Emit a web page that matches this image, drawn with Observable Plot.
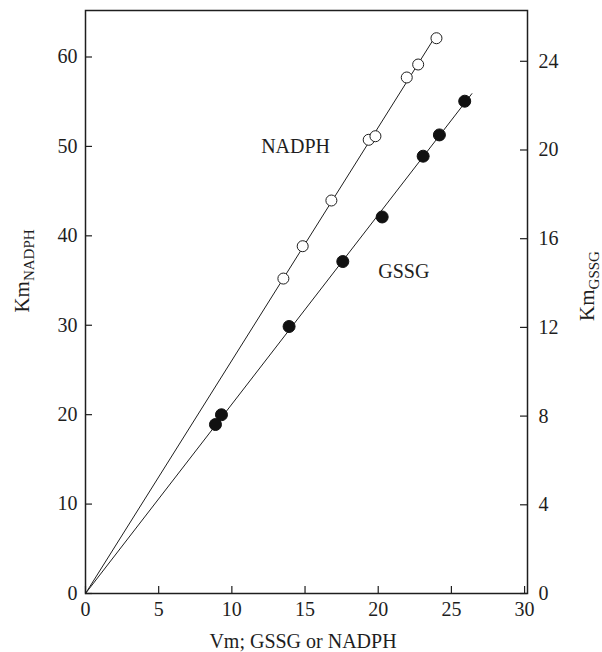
<!DOCTYPE html>
<html><head><meta charset="utf-8">
<script src="https://cdn.jsdelivr.net/npm/d3@7"></script>
<script src="https://cdn.jsdelivr.net/npm/@observablehq/plot@0.6"></script>
<style>
  html, body { margin: 0; padding: 0; background: #fff; }
  #chart { width: 602px; height: 652px; }
</style>
</head><body><div id="chart"></div>
<script>
// NADPH (open circles, left axis Km_NADPH)
const nadphVm = [13.52, 14.84, 16.80, 19.35, 19.81, 21.95, 22.73, 23.98];
const nadphKm = [35.22, 38.84, 43.95, 50.74, 51.14, 57.71, 59.16, 62.10];
// GSSG (filled circles, right axis Km_GSSG)
const gssgVm = [8.88, 9.29, 13.91, 17.58, 20.27, 23.07, 24.18, 25.91];
const gssgKm = [7.62, 8.06, 12.04, 14.97, 16.98, 19.72, 20.68, 22.20];

const xTicks = [0, 5, 10, 15, 20, 25, 30];
const leftTicks = [0, 10, 20, 30, 40, 50, 60];
const rightTicks = [0, 4, 8, 12, 16, 20, 24];
const rightPerLeft = 2.48;            // left-axis units per right-axis unit
const seriesNames = ["NADPH", "GSSG"];
const lineEndVm = [23.98, 26.4];      // extent of the fitted lines
const labelVm = [12.0, 20.0];
const labelKm = [50.0, 36.0];         // in left-axis units

const ink = "#1e1e1e";
const serif = "'Liberation Serif', 'Times New Roman', serif";

const W = 602, H = 652, ML = 85, MR = 75, MT = 10, MB = 59;
const frameW = W - ML - MR, frameH = H - MT - MB, tick = 7;

const nadph = nadphVm.map((x, i) => ({x, y: nadphKm[i]}));
const gssg = gssgVm.map((x, i) => ({x, y: gssgKm[i] * rightPerLeft}));
const rightTickPos = rightTicks.map(v => v * rightPerLeft);

function slopeThroughOrigin(pts) {
  const sxy = d3.sum(pts, d => d.x * d.y);
  const sxx = d3.sum(pts, d => d.x * d.x);
  return sxy / sxx;
}
const fits = [nadph, gssg].map(slopeThroughOrigin);
const fitLines = seriesNames.flatMap((s, i) => [
  {s, x: 0, y: 0},
  {s, x: lineEndVm[i], y: fits[i] * lineEndVm[i]}
]);
const seriesLabels = seriesNames.map((t, i) => ({t, x: labelVm[i], y: labelKm[i]}));

const chart = Plot.plot({
  width: W,
  height: H,
  marginLeft: ML,
  marginRight: MR,
  marginTop: MT,
  marginBottom: MB,
  style: {fontFamily: serif, fontSize: "20px", color: ink, background: "#fff"},
  x: {domain: [0, 30.2]},
  y: {domain: [0, 65.2]},
  marks: [
    // tick labels
    Plot.axisX({ticks: xTicks, tickSize: 0, tickPadding: 8, fontSize: 20, label: null, tickFormat: d => String(d)}),
    Plot.axisY({ticks: leftTicks, anchor: "left", tickSize: 0, tickPadding: 8, fontSize: 20, label: null, tickFormat: d => String(d)}),
    Plot.axisY({ticks: rightTickPos, anchor: "right", tickSize: 0, tickPadding: 11, fontSize: 20, label: null, tickFormat: d => String(Math.round(d / rightPerLeft))}),
    // inward tick marks
    Plot.tickX(xTicks, {x: d => d, insetTop: frameH - tick, stroke: ink, strokeWidth: 1.2}),
    Plot.tickY(leftTicks, {y: d => d, insetRight: frameW - tick, stroke: ink, strokeWidth: 1.2}),
    Plot.tickY(rightTickPos, {y: d => d, insetLeft: frameW - tick, stroke: ink, strokeWidth: 1.2}),
    Plot.frame({stroke: ink, strokeWidth: 1.5}),
    Plot.line(fitLines, {x: "x", y: "y", z: "s", stroke: ink, strokeWidth: 1}),
    Plot.dot(nadph, {x: "x", y: "y", r: 5.5, fill: "white", stroke: ink, strokeWidth: 1}),
    Plot.dot(gssg, {x: "x", y: "y", r: 6, fill: "#111", stroke: "#111", strokeWidth: 1}),
    Plot.text(seriesLabels, {x: "x", y: "y", text: "t", textAnchor: "start", lineAnchor: "middle", fontSize: 20, fill: ink}),
    Plot.text(["Vm; GSSG or NADPH"], {frameAnchor: "bottom", lineAnchor: "bottom", dx: -3.5, dy: 54, fontSize: 20, fill: ink}),
    Plot.text(["KmNADPH"], {frameAnchor: "left", rotate: -90, lineAnchor: "bottom", textAnchor: "middle", dx: -57, dy: -31, fontSize: 21, fill: ink}),
    Plot.text(["KmGSSG"], {frameAnchor: "right", rotate: -90, lineAnchor: "bottom", textAnchor: "middle", dx: 66, dy: -16, fontSize: 21, fill: ink})
  ]
});

// subscripts for the axis titles
d3.select(chart).selectAll("text").each(function() {
  const t = this.textContent;
  if (t === "KmNADPH" || t === "KmGSSG") {
    const sub = t.slice(2);
    const sel = d3.select(this);
    sel.text("");
    sel.append("tspan").text("Km");
    sel.append("tspan").attr("dy", 5).attr("font-size", 15).text(sub);
  }
});

document.getElementById("chart").appendChild(chart);
</script>
</body></html>
